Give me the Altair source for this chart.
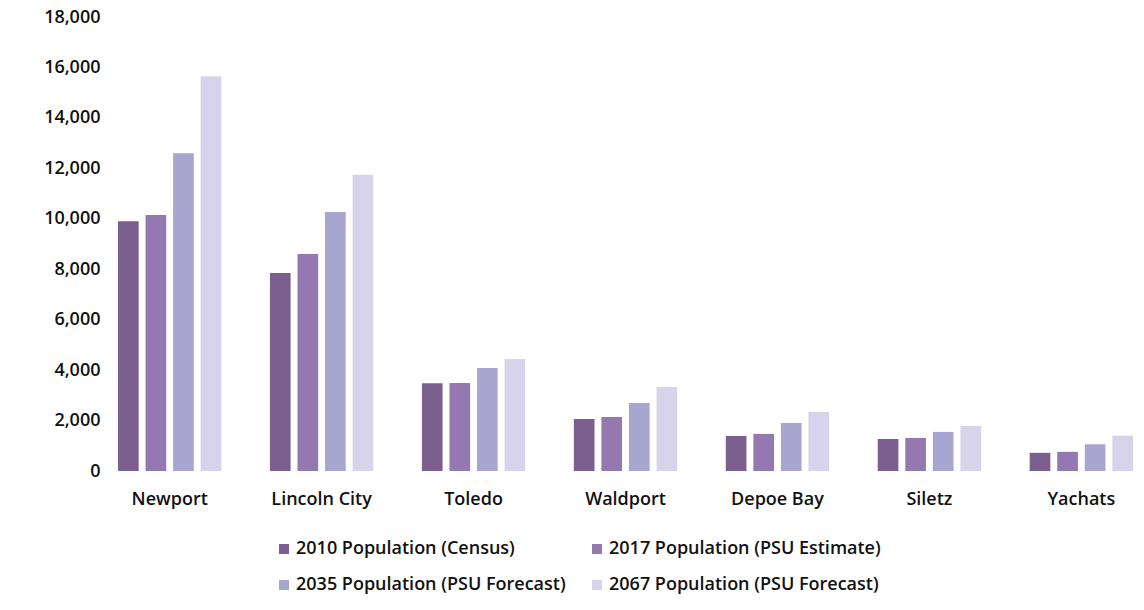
import altair as alt
import pandas as pd

cities = ["Newport", "Lincoln City", "Toledo", "Waldport", "Depoe Bay", "Siletz", "Yachats"]
series = ["2010 Population (Census)", "2017 Population (PSU Estimate)",
          "2035 Population (PSU Forecast)", "2067 Population (PSU Forecast)"]
pop_2010 = [9900, 7850, 3480, 2060, 1390, 1270, 720]
pop_2017 = [10150, 8600, 3490, 2140, 1470, 1310, 760]
pop_2035 = [12600, 10270, 4080, 2700, 1900, 1550, 1060]
pop_2067 = [15650, 11750, 4440, 3330, 2340, 1780, 1400]
colors = ["#7b5f8f", "#9478b0", "#a9a5d1", "#d6d3ea"]
y_ticks = [0, 2000, 4000, 6000, 8000, 10000, 12000, 14000, 16000, 18000]

rows = []
for vals, s in zip([pop_2010, pop_2017, pop_2035, pop_2067], series):
    for c, v in zip(cities, vals):
        rows.append({"city": c, "series": s, "value": v})
df = pd.DataFrame(rows)

FONT = "Open Sans"
FS = 18
FW = 600

chart = alt.Chart(df).mark_bar().encode(
    x=alt.X("city:N", sort=cities, title=None,
            scale=alt.Scale(paddingInner=0.32, paddingOuter=0),
            axis=alt.Axis(labelAngle=0, domain=False, ticks=False, labelPadding=19,
                          labelFontSize=FS, labelFont=FONT, labelFontWeight=FW,
                          labelColor="#111111")),
    xOffset=alt.XOffset("series:N", sort=series,
                        scale=alt.Scale(paddingInner=0.25, paddingOuter=0)),
    y=alt.Y("value:Q", title=None,
            scale=alt.Scale(domain=[0, 18000], nice=False),
            axis=alt.Axis(values=y_ticks, format=",d", grid=False, domain=False, ticks=False,
                          labelPadding=18, labelFontSize=FS, labelFont=FONT,
                          labelFontWeight=FW, labelColor="#111111")),
    color=alt.Color("series:N", sort=series,
                    scale=alt.Scale(domain=series, range=colors),
                    legend=alt.Legend(title=None, orient="none", legendX=157, legendY=523,
                                      direction="horizontal",
                                      columns=2, symbolType="square", symbolSize=100,
                                      symbolStrokeWidth=0, labelOffset=3,
                                      columnPadding=22, rowPadding=18,
                                      labelFontSize=FS, labelFont=FONT,
                                      labelFontWeight=FW, labelColor="#111111",
                                      labelLimit=400)),
).properties(
    width=1015, height=454,
    autosize=alt.AutoSizeParams(type="none"),
    padding={"left": 118, "top": 17, "right": 11, "bottom": 139},
).configure_view(stroke=None)

chart.save("out.html", embed_options={"renderer": "svg", "actions": False})
